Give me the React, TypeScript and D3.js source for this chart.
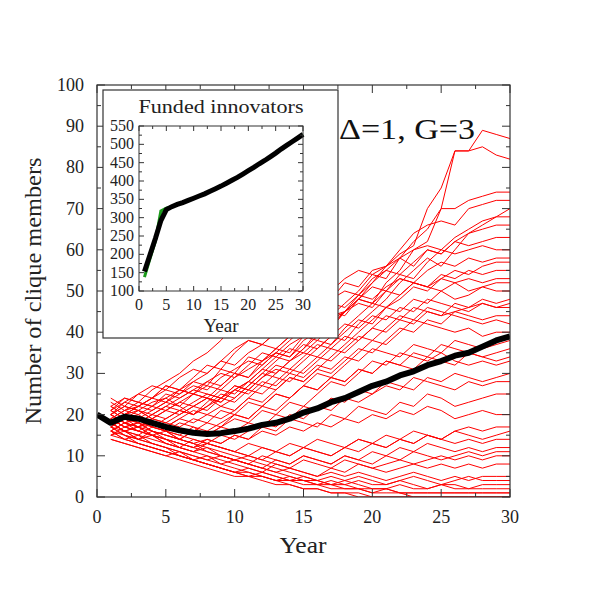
import React from "react";
import * as d3 from "d3";

// Years 1..30 for each red trajectory
const trajYears = d3.range(1, 31);
const trajectories: number[][] = [
  [20,22,21,23,24,22,25,27,26,29,31,33,35,34,38,40,43,45,48,47,52,55,60,62,70,84,84,89,88,87],
  [19,21,23,22,24,26,25,28,30,29,32,35,34,37,39,42,45,44,48,52,56,59,61,70,75,84,84,85,83,82],
  [18,20,22,21,23,25,27,26,29,31,33,32,35,38,41,40,44,47,50,54,53,58,62,65,70,70,72,73,74,74],
  [21,23,22,24,26,25,28,30,33,32,35,37,36,39,42,45,48,52,51,55,56,60,64,66,67,66,70,71,72,72],
  [17,19,18,20,22,21,23,25,24,27,26,29,31,30,33,36,39,38,42,45,48,52,55,58,56,60,64,66,68,70],
  [20,18,19,21,23,22,20,22,24,26,28,27,30,33,36,40,44,45,49,53,55,58,56,60,59,62,61,62,63,63],
  [22,24,23,26,28,30,33,35,38,42,44,43,46,47,49,48,50,53,55,54,56,58,60,61,60,59,60,61,60,60],
  [16,18,17,19,21,20,22,24,23,26,28,31,30,33,35,34,37,40,43,42,46,48,51,50,53,55,54,56,57,57],
  [19,21,20,22,21,23,25,24,22,24,27,30,33,36,35,38,37,41,44,47,46,49,52,51,54,53,55,54,55,55],
  [18,20,19,17,19,21,20,23,26,25,28,31,34,33,36,39,42,45,48,47,50,49,52,51,50,52,53,52,53,53],
  [23,21,22,24,27,26,29,32,31,35,38,37,40,43,42,45,47,46,49,48,51,53,52,51,53,52,50,51,52,52],
  [15,17,16,18,17,19,21,20,19,21,24,27,26,29,28,31,34,37,40,43,46,45,48,47,50,48,49,51,50,50],
  [20,22,21,19,18,20,22,21,24,23,26,25,28,31,30,33,36,35,38,41,40,43,42,45,44,47,46,48,47,48],
  [17,19,21,20,22,24,26,28,27,30,29,32,35,34,37,36,39,42,41,44,43,46,45,48,47,46,45,47,46,46],
  [21,19,20,18,17,19,18,20,22,21,24,23,26,29,28,31,30,33,36,35,38,41,40,43,42,45,44,43,44,44],
  [18,16,17,15,16,14,16,18,17,20,19,22,25,24,27,30,29,32,35,38,37,40,43,46,45,44,43,42,43,42],
  [19,17,18,20,19,21,20,22,25,24,27,30,29,28,31,34,33,36,39,38,41,44,43,42,41,40,41,39,40,40],
  [22,20,21,19,21,23,22,24,23,26,25,28,27,30,29,32,31,34,33,36,35,34,37,36,35,38,37,36,37,38],
  [16,14,15,17,16,15,17,16,18,20,19,22,21,24,27,26,29,28,31,30,33,32,35,34,37,36,35,34,35,36],
  [20,18,19,17,16,18,17,15,17,19,18,21,20,23,22,25,28,27,30,33,32,35,34,33,35,33,32,33,32,33],
  [17,19,18,16,15,14,16,15,17,16,18,17,20,19,22,21,24,23,26,25,28,27,26,29,28,30,29,28,29,30],
  [21,19,17,18,16,15,14,13,15,14,16,18,17,20,19,22,21,24,23,25,27,26,29,28,27,26,28,27,28,28],
  [18,16,17,15,14,13,12,14,13,15,14,17,16,19,18,17,20,19,22,21,20,23,22,25,24,22,23,24,25,25],
  [15,16,14,15,13,12,11,13,12,11,10,12,11,10,12,11,10,12,14,13,15,14,16,15,14,16,17,16,17,17],
  [19,17,16,15,13,12,14,13,12,11,10,9,11,10,12,11,10,12,11,13,12,14,13,15,14,16,15,14,15,16],
  [17,15,14,13,12,11,10,9,10,9,8,10,9,8,10,9,8,10,9,11,10,12,11,13,12,11,12,11,12,12],
  [14,13,12,11,10,11,9,10,8,9,8,7,9,8,10,9,8,10,9,8,10,9,11,10,9,10,11,10,11,11],
  [18,16,15,14,13,12,11,12,10,9,10,9,8,7,9,8,7,9,8,7,8,9,8,9,10,9,10,9,10,10],
  [16,14,13,12,11,10,9,8,7,6,7,6,8,7,6,5,7,6,8,7,6,7,8,7,8,7,8,7,8,8],
  [20,18,16,15,14,13,12,11,10,9,8,7,6,7,6,5,6,5,6,5,4,5,6,5,4,5,4,5,5,5],
  [15,14,13,12,11,10,9,8,7,6,5,6,5,4,5,4,5,4,5,4,3,4,5,4,3,4,5,4,4,4],
  [17,16,14,13,12,10,9,8,7,6,6,5,4,5,4,3,4,3,4,3,3,4,3,2,3,3,2,3,3,3],
  [19,17,16,15,14,12,11,10,9,8,7,6,5,4,4,3,3,4,3,2,2,3,2,2,3,2,2,2,2,2],
  [16,15,13,12,11,10,9,8,7,6,5,5,4,4,3,3,2,2,2,1,2,1,1,1,1,1,1,1,1,1],
  [14,13,12,11,10,9,8,7,6,5,5,4,3,3,2,2,1,1,1,0,0,0,0,0,0,0,0,0,0,0],
  [18,16,15,13,12,11,10,9,8,7,6,5,4,3,2,2,1,1,0,0,0,0,0,0,0,0,0,0,0,0],
  [22,20,18,17,16,14,13,12,11,10,9,8,7,6,5,4,3,3,2,2,2,1,1,1,1,1,1,1,1,1],
  [20,18,17,16,15,14,13,11,10,9,8,7,6,5,4,4,3,2,2,1,1,1,0,0,0,0,0,0,0,0],
  [24,22,25,27,26,29,31,30,33,36,38,37,40,43,42,45,48,50,49,52,55,54,57,60,59,62,64,65,66,66],
  [18,20,22,24,23,26,25,24,27,30,29,33,36,35,39,38,41,45,47,46,50,54,53,57,60,63,65,67,68,68],
  [20,23,25,24,27,26,28,27,31,30,34,33,36,39,40,42,41,45,48,51,50,53,52,55,57,56,58,57,58,58],
  [21,24,23,22,25,24,26,25,24,27,26,29,32,31,34,37,36,39,38,41,44,43,46,45,44,45,46,47,46,47],
  [16,18,17,19,18,17,19,18,21,20,23,22,25,24,27,26,29,28,31,30,33,32,31,34,33,32,35,34,33,34],
  [19,17,18,16,15,14,13,14,13,15,14,16,15,17,16,18,17,19,18,20,19,21,20,22,21,19,20,21,20,20],
  [17,15,14,16,14,13,12,13,12,11,13,12,11,13,12,14,13,12,14,13,12,14,13,15,14,13,14,13,14,14],
];

// Black mean line, years 0..30
const meanYears = d3.range(0, 31);
const meanValues = [20,18,19.5,19,18,17,16.2,15.6,15.3,15.5,16,16.6,17.5,18,19,20.5,21.5,23,24,25.5,27,28,29.5,30.5,32,33,34.3,35,36.5,38,39];

// Inset: funded innovators
const insetYears = d3.range(1, 31);
const fundedBlack = [153,198,243,292,322,330,336,341,347,353,359,365,372,379,386,394,402,410,419,428,437,447,456,466,476,487,497,507,517,527];
const fundedGreen = [138,188,236,318,326,330,336,341,347,353,359,365,372,379,386,394,402,410,419,428,437,447,456,466,476,487,497,507,517,527];

const mainXTicks = [0, 5, 10, 15, 20, 25, 30];
const mainYTicks = [0, 10, 20, 30, 40, 50, 60, 70, 80, 90, 100];
const insetXTicks = [0, 5, 10, 15, 20, 25, 30];
const insetYTicks = [100, 150, 200, 250, 300, 350, 400, 450, 500, 550];

const FONT = "'Liberation Serif', 'DejaVu Serif', serif";
const AXIS = "#333";

export default function App() {
  const W = 595, H = 595;
  const x = d3.scaleLinear().domain([0, 30]).range([97, 510]);
  const y = d3.scaleLinear().domain([0, 100]).range([497, 85]);
  const ix = d3.scaleLinear().domain([0, 30]).range([139, 303]);
  const iy = d3.scaleLinear().domain([100, 550]).range([291, 126]);

  const line = d3.line<number>().x((_, i) => x(trajYears[i])).y((v) => y(v));
  const meanLine = d3.line<number>().x((_, i) => x(meanYears[i])).y((v) => y(v));
  const insetLine = d3.line<number>().x((_, i) => ix(insetYears[i])).y((v) => iy(v));

  const mxMinor = d3.range(0, 30.01, 2.5);
  const myMinor = d3.range(0, 100.01, 5);
  const ixMinor = d3.range(0, 30.01, 2.5);
  const iyMinor = d3.range(100, 550.01, 25);

  return (
    <svg width={W} height={H} style={{ position: "absolute", left: 0, top: 0 }}>
      <rect width={W} height={H} fill="white" />
      <defs>
        <clipPath id="mainclip">
          <rect x={97} y={85} width={413} height={412} />
        </clipPath>
      </defs>
      <g clipPath="url(#mainclip)">
        {trajectories.map((t, i) => (
          <path key={i} d={line(t) || ""} fill="none" stroke="#ff0000" strokeWidth={1} />
        ))}
        <path d={meanLine(meanValues) || ""} fill="none" stroke="black" strokeWidth={6} strokeLinejoin="round" />
      </g>
      {mxMinor.map((t) => {
        const major = t % 5 === 0;
        const len = major ? 8 : 4;
        return (
          <g key={"mx" + t}>
            <line x1={x(t)} x2={x(t)} y1={497} y2={497 - len} stroke={AXIS} />
            <line x1={x(t)} x2={x(t)} y1={85} y2={85 + len} stroke={AXIS} />
          </g>
        );
      })}
      {myMinor.map((t) => {
        const major = t % 10 === 0;
        const len = major ? 8 : 4;
        return (
          <g key={"my" + t}>
            <line x1={97} x2={97 + len} y1={y(t)} y2={y(t)} stroke={AXIS} />
            <line x1={510} x2={510 - len} y1={y(t)} y2={y(t)} stroke={AXIS} />
          </g>
        );
      })}
      <rect x={97} y={85} width={413} height={412} fill="none" stroke={AXIS} strokeWidth={1.2} />
      {mainXTicks.map((t) => (
        <text key={"mxl" + t} x={x(t)} y={523} textAnchor="middle" fontFamily={FONT} fontSize={18} fill="#222">{t}</text>
      ))}
      {mainYTicks.map((t) => (
        <text key={"myl" + t} x={84} y={y(t) + 6} textAnchor="end" fontFamily={FONT} fontSize={18} fill="#222">{t}</text>
      ))}
      <text x={303} y={553} textAnchor="middle" fontFamily={FONT} fontSize={24} textLength={47} lengthAdjust="spacingAndGlyphs" fill="#222">Year</text>
      <text transform={`translate(41,291) rotate(-90)`} textAnchor="middle" fontFamily={FONT} fontSize={24} textLength={267} lengthAdjust="spacingAndGlyphs" fill="#222">Number of clique members</text>
      <text x={339} y={139} fontFamily={FONT} fontSize={29} textLength={136} lengthAdjust="spacingAndGlyphs" fill="#111">Δ=1, G=3</text>

      <rect x={103} y={90} width={235} height={248} fill="white" stroke={AXIS} strokeWidth={1.2} />
      <text x={221} y={113} textAnchor="middle" fontFamily={FONT} fontSize={19} textLength={165} lengthAdjust="spacingAndGlyphs" fill="#222">Funded innovators</text>
      <path d={insetLine(fundedGreen) || ""} fill="none" stroke="#1a9a1a" strokeWidth={3} />
      <path d={insetLine(fundedBlack) || ""} fill="none" stroke="black" strokeWidth={5} />
      {ixMinor.map((t) => {
        const major = t % 5 === 0;
        const len = major ? 5 : 3;
        return (
          <g key={"ix" + t}>
            <line x1={ix(t)} x2={ix(t)} y1={291} y2={291 - len} stroke={AXIS} />
            <line x1={ix(t)} x2={ix(t)} y1={126} y2={126 + len} stroke={AXIS} />
          </g>
        );
      })}
      {iyMinor.map((t) => {
        const major = t % 50 === 0;
        const len = major ? 5 : 3;
        return (
          <g key={"iy" + t}>
            <line x1={139} x2={139 + len} y1={iy(t)} y2={iy(t)} stroke={AXIS} />
            <line x1={303} x2={303 - len} y1={iy(t)} y2={iy(t)} stroke={AXIS} />
          </g>
        );
      })}
      <rect x={139} y={126} width={164} height={165} fill="none" stroke={AXIS} strokeWidth={1} />
      {insetXTicks.map((t) => (
        <text key={"ixl" + t} x={ix(t)} y={310} textAnchor="middle" fontFamily={FONT} fontSize={16} fill="#222">{t}</text>
      ))}
      {insetYTicks.map((t) => (
        <text key={"iyl" + t} x={134} y={iy(t) + 5} textAnchor="end" fontFamily={FONT} fontSize={16} fill="#222">{t}</text>
      ))}
      <text x={221} y={332} textAnchor="middle" fontFamily={FONT} fontSize={19} fill="#222">Year</text>
    </svg>
  );
}
